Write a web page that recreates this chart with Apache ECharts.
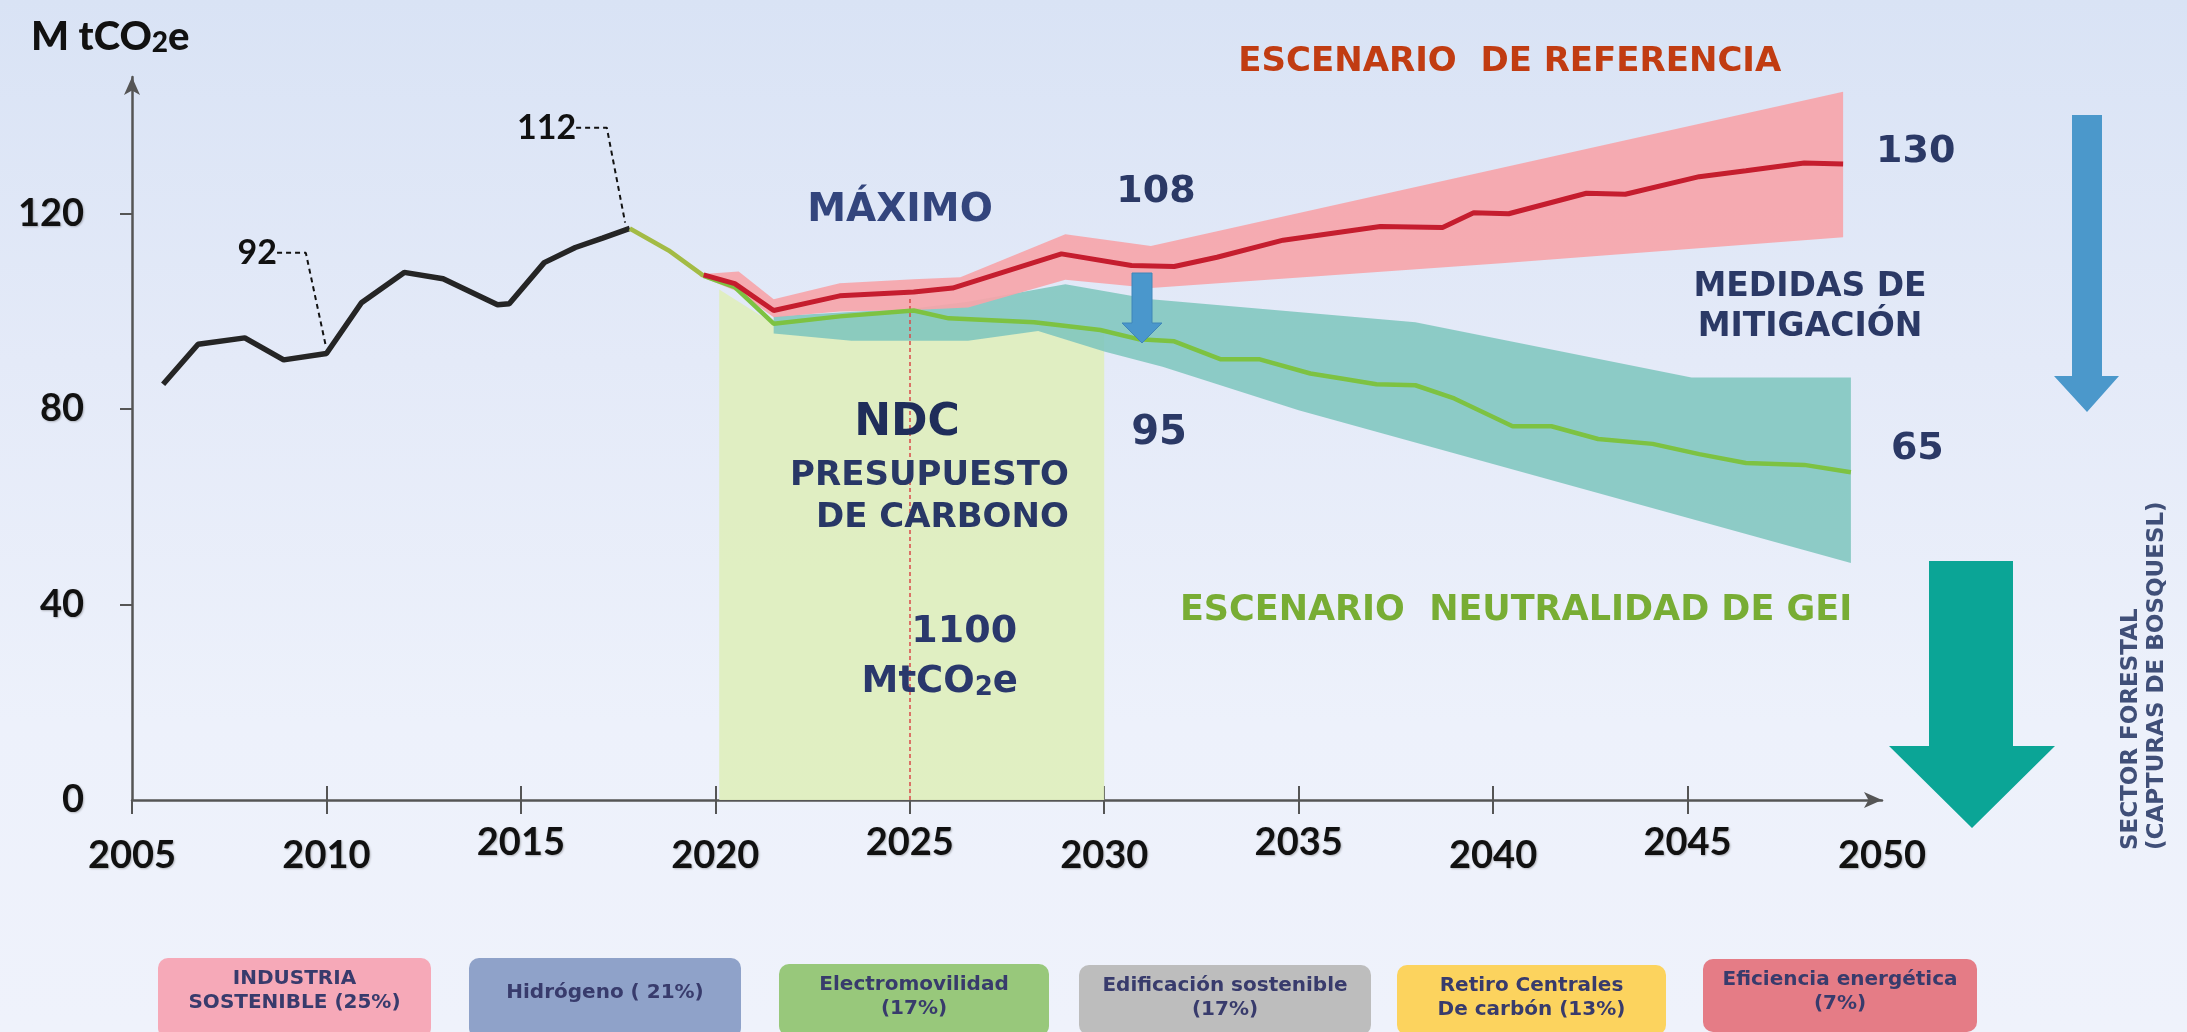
<!DOCTYPE html>
<html>
<head>
<meta charset="utf-8">
<script src="https://cdn.jsdelivr.net/npm/echarts/dist/echarts.min.js"></script>
<style>
  html, body { margin: 0; padding: 0; }
  body {
    width: 2187px; height: 1032px; overflow: hidden;
    background: linear-gradient(180deg, #d9e3f5 0%, #e4eaf8 35%, #edf1fb 70%, #eff2fb 100%);
  }
  #chart { width: 2187px; height: 1032px; }
</style>
</head>
<body>
<div id="chart"></div>
<script>
// ---------------- DATA ----------------
const xTicks = [2005, 2010, 2015, 2020, 2025, 2030, 2035, 2040, 2045, 2050];
const xTicksRaised = [2015, 2025, 2035, 2045];
const yTicks = [0, 40, 80, 120];

// Historical emissions (black line) [year, MtCO2e]
const historico = [[2005.8,85.1],[2006.7,93.3],[2007.9,94.6],[2008.9,90.1],[2010.0,91.4],[2010.9,101.8],
  [2012.0,108.0],[2013.0,106.7],[2014.4,101.4],[2014.7,101.6],[2015.6,110.0],[2016.4,113.1],[2017.1,115.0],[2017.8,117.0]];

// Reference scenario (red line)
const referencia = [[2019.7,107.5],[2020.5,105.7],[2021.5,100.2],[2023.2,103.2],[2025.1,104.0],[2026.1,104.8],
  [2028.9,111.8],[2030.7,109.4],[2031.8,109.2],[2032.9,111.1],[2034.6,114.6],[2037.1,117.4],[2038.7,117.2],
  [2039.5,120.2],[2040.4,120.0],[2042.4,124.2],[2043.4,124.0],[2045.3,127.6],[2046.5,128.8],[2048.0,130.4],[2049.0,130.2]];

// GHG neutrality scenario (green line); first 3 points are the 2018-2020 transition
const neutralidad = [[2017.8,117.0],[2018.8,112.5],[2019.7,107.3],[2020.5,105.0],[2021.5,97.5],[2023.2,99.0],
  [2025.1,100.2],[2026.0,98.6],[2028.2,97.8],[2029.9,96.2],[2030.9,94.3],[2031.8,93.9],[2033.0,90.2],[2034.0,90.2],
  [2035.3,87.3],[2036.1,86.3],[2037.0,85.1],[2038.0,84.9],[2039.0,82.2],[2040.5,76.5],[2041.5,76.5],[2042.7,73.9],
  [2044.1,72.9],[2045.3,70.8],[2046.5,69.0],[2048.0,68.6],[2049.2,67.1]];

// Reference scenario range (red band)
const bandaRefAlta = [[2019.6,107.6],[2020.6,108.2],[2021.5,102.5],[2023.2,105.8],[2025.1,106.6],[2026.3,107.0],
  [2029.0,115.8],[2031.2,113.4],[2049.0,145.0]];
const bandaRefBaja = [[2019.6,107.2],[2020.6,104.0],[2021.5,98.8],[2023.2,100.0],[2025.1,100.3],[2026.5,100.8],
  [2029.0,106.5],[2031.2,104.8],[2040.3,109.9],[2049.0,115.2]];

// Neutrality scenario range (teal band)
const bandaNeuAlta = [[2021.5,99.0],[2025.1,100.6],[2026.5,102.0],[2029.0,105.6],[2031.2,102.5],[2038.0,97.8],
  [2045.1,86.5],[2049.2,86.5]];
const bandaNeuBaja = [[2021.5,95.5],[2023.5,94.0],[2026.5,94.0],[2028.3,96.0],[2030.0,91.8],[2031.5,88.7],
  [2035.0,79.8],[2049.2,48.5]];

// NDC carbon budget 2020-2030 (green box)
const presupuestoNDC = [[2020.1,104.5],[2021.5,97.5],[2023.2,98.8],[2025.1,99.8],[2026.0,98.5],[2028.2,97.5],[2030.0,95.8]];
const marca2025 = [[2025, 0], [2025, 103]];

// Leader lines for callouts
const guia92 = [[2008.73,112.0],[2009.47,112.0],[2009.99,92.7]];
const guia112 = [[2016.42,137.6],[2017.21,137.6],[2017.68,118.2]];

// Mitigation measures boxes
const medidas = ['INDUSTRIA\nSOSTENIBLE (25%)', 'Hidrógeno ( 21%)', 'Electromovilidad\n(17%)',
  'Edificación sostenible\n(17%)', 'Retiro Centrales\nDe carbón (13%)', 'Eficiencia energética\n(7%)'];
const medidasColores = ['#f6a9b8', '#8fa2c9', '#98c87b', '#bdbdbd', '#fcd35e', '#e57c86'];

// ---------------- CHART ----------------
const chart = echarts.init(document.getElementById('chart'), null, { renderer: 'canvas' });

const tickFont = { fontFamily: 'Lato', fontWeight: 'bold', fontSize: 38, color: '#111',
  textShadowColor: 'rgba(0,0,0,0.25)', textShadowBlur: 2, textShadowOffsetX: 1, textShadowOffsetY: 1 };
const navy = '#2b3966';
const ann = { fontFamily: 'DejaVu Sans', fontWeight: 'bold' };

function band(name, upper, lower, color, z) {
  return {
    type: 'custom', name: name, z: z, silent: true, clip: false,
    data: [upper[0]],
    renderItem: function (params, api) {
      const pts = upper.map(p => api.coord(p)).concat(lower.slice().reverse().map(p => api.coord(p)));
      return { type: 'polygon', shape: { points: pts }, style: { fill: color } };
    }
  };
}

function note(value, text, style, align) {
  return { value: value, label: Object.assign({ show: true, position: 'inside', align: align || 'center',
    verticalAlign: 'middle', formatter: text }, ann, style) };
}

const annotations = [
  note([2024.75, 120.6], 'MÁXIMO', { fontSize: 39, color: '#33457d' }),
  note([2031.33, 124.5], '108', { fontSize: 38, color: navy }),
  note([2024.93, 77.0], 'NDC', { fontSize: 44, color: '#1f2d5a' }),
  note([2029.09, 66.3], 'PRESUPUESTO', { fontSize: 34, color: '#283766' }, 'right'),
  note([2029.09, 57.7], 'DE CARBONO', { fontSize: 34, color: '#283766' }, 'right'),
  note([2031.41, 74.9], '95', { fontSize: 40, color: navy }),
  note([2027.76, 34.4], '1100', { fontSize: 38, color: '#2a386c' }, 'right'),
  note([2027.78, 24.0], '{a|MtCO}{b|2}{a|e}', { rich: {
      a: Object.assign({ fontSize: 37, color: '#2a386c' }, ann),
      b: { fontFamily: 'DejaVu Sans', fontSize: 26, color: '#2a386c', verticalAlign: 'bottom', padding: [8, 0, 0, 0] } } }, 'right'),
  note([2040.43, 151.1], 'ESCENARIO  DE REFERENCIA', { fontSize: 34, color: '#c13c12' }),
  note([2048.15, 105.0], 'MEDIDAS DE', { fontSize: 33, color: navy }),
  note([2048.15, 96.8], 'MITIGACIÓN', { fontSize: 33, color: navy }),
  note([2040.59, 38.7], 'ESCENARIO  NEUTRALIDAD DE GEI', { fontSize: 35, color: '#78ad34' }),
  note([2008.73, 112.0], '92', { fontFamily: 'Lato', fontSize: 34, color: '#111' }, 'right'),
  note([2016.42, 137.6], '112', { fontFamily: 'Lato', fontSize: 34, color: '#111' }, 'right')
];

// Decorative arrows and text outside the plot (pixel layout)
const graphics = [
  { type: 'polygon', z: 50, shape: { points: [[1132,273],[1152,273],[1152,323],[1162,323],[1142,343],[1122,323],[1132,323]] },
    style: { fill: '#4a97cc', stroke: '#3f86b8', lineWidth: 1 } },
  { type: 'polygon', z: 50, shape: { points: [[2072,115],[2102,115],[2102,376],[2119,376],[2087,412],[2054,376],[2072,376]] },
    style: { fill: '#4b98cb' } },
  { type: 'polygon', z: 50, shape: { points: [[1929,561],[2013,561],[2013,746],[2055,746],[1972,828],[1889,746],[1929,746]] },
    style: { fill: '#0ba596' } },
  { type: 'text', z: 50, x: 2131, y: 850, rotation: Math.PI / 2,
    style: { text: 'SECTOR FORESTAL', font: 'bold 23px "DejaVu Sans"', fill: '#404f78', align: 'left', verticalAlign: 'middle' } },
  { type: 'text', z: 50, x: 2157, y: 850, rotation: Math.PI / 2,
    style: { text: '(CAPTURAS DE BOSQUESL)', font: 'bold 23px "DejaVu Sans"', fill: '#404f78', align: 'left', verticalAlign: 'middle' } }
];
const boxes = [[158,958,273,80],[469,958,272,80],[779,964,270,72],[1079,965,292,70],[1397,965,269,70],[1703,959,274,73]];
medidas.forEach((t, i) => {
  const b = boxes[i];
  graphics.push({ type: 'rect', z: 40, shape: { x: b[0], y: b[1], width: b[2], height: b[3], r: 10 },
    style: { fill: medidasColores[i] } });
  graphics.push({ type: 'text', z: 41, x: b[0] + b[2] / 2, y: b[1] + (t.indexOf('\n') > 0 ? 33 : 35),
    style: { text: t, font: 'bold 20px "DejaVu Sans"', fill: '#383b6c', align: 'center', verticalAlign: 'middle', lineHeight: 24 } });
});

const option = {
  backgroundColor: 'transparent',
  animation: false,
  title: {
    left: 26, top: 12,
    text: '{a|M tCO}{b|2}{a|e}',
    textStyle: { rich: {
      a: { fontFamily: 'Lato', fontWeight: 900, fontSize: 40, color: '#111' },
      b: { fontFamily: 'Lato', fontWeight: 900, fontSize: 28, color: '#111', verticalAlign: 'bottom', padding: [7, 0, 0, 0] } } }
  },
  grid: { left: 132, right: 305, top: 77, bottom: 232 },
  xAxis: [{
    type: 'value', min: 2005, max: 2050, interval: 5,
    axisLine: { show: true, symbol: ['none', 'arrow'], symbolSize: [12, 18], lineStyle: { color: '#555', width: 2.5 } },
    axisTick: { show: true, length: 14, lineStyle: { color: '#555', width: 2 }, customValues: xTicks.slice(0, -1) },
    splitLine: { show: false },
    axisLabel: {
      customValues: xTicks, margin: 23,
      formatter: v => (xTicksRaised.indexOf(v) >= 0 ? '{h|' + v + '}' : '{l|' + v + '}'),
      rich: { h: Object.assign({ lineHeight: 40 }, tickFont), l: Object.assign({ lineHeight: 40, padding: [26, 0, 0, 0] }, tickFont) }
    }
  }, {
    type: 'value', min: 2005, max: 2050, interval: 5, position: 'bottom', offset: 0,
    axisLine: { show: false }, axisLabel: { show: false }, splitLine: { show: false },
    axisTick: { show: true, inside: true, length: 14, lineStyle: { color: '#555', width: 2 }, customValues: xTicks.slice(1, -1) }
  }],
  yAxis: {
    type: 'value', min: 0, max: 148,
    axisLine: { show: true, symbol: ['none', 'arrow'], symbolSize: [12, 18], lineStyle: { color: '#555', width: 2.5 } },
    axisTick: { show: true, length: 12, lineStyle: { color: '#555', width: 2 }, customValues: yTicks.slice(1) },
    splitLine: { show: false },
    axisLabel: Object.assign({ customValues: yTicks, margin: 48 }, tickFont)
  },
  graphic: graphics,
  series: [
    {
      type: 'line', name: 'Presupuesto NDC', data: presupuestoNDC, z: 1, silent: true,
      symbol: 'none', lineStyle: { width: 0 },
      areaStyle: { color: '#dfeebf', opacity: 0.95, origin: 'start' },
      markLine: { silent: true, symbol: 'none', label: { show: false },
        lineStyle: { type: [4, 3], color: '#d94a4a', width: 1.5 },
        data: [[{ coord: marca2025[0] }, { coord: marca2025[1] }]] }
    },
    band('Rango neutralidad', bandaNeuAlta, bandaNeuBaja, 'rgba(128,198,190,0.88)', 2),
    band('Rango referencia', bandaRefAlta, bandaRefBaja, 'rgba(246,165,170,0.92)', 3),
    {
      type: 'line', name: 'Histórico', data: historico, z: 6, symbol: 'none',
      lineStyle: { color: '#252525', width: 5.5 }
    },
    {
      type: 'line', name: 'Transición', data: neutralidad.slice(0, 3), z: 6, symbol: 'none',
      lineStyle: { color: '#a3bb45', width: 4.5 }
    },
    {
      type: 'line', name: 'Escenario neutralidad', data: neutralidad.slice(2), z: 6, symbol: 'none',
      lineStyle: { color: '#7dc242', width: 4.5 },
      endLabel: Object.assign({ show: true, formatter: '65', distance: 40, offset: [0, -23], fontSize: 38, color: navy }, ann)
    },
    {
      type: 'line', name: 'Escenario de referencia', data: referencia, z: 7, symbol: 'none',
      lineStyle: { color: '#c51d2e', width: 5 },
      endLabel: Object.assign({ show: true, formatter: '130', distance: 33, offset: [0, -12], fontSize: 38, color: navy }, ann)
    },
    {
      type: 'line', name: 'Guía 92', data: guia92, z: 8, symbol: 'none', silent: true,
      lineStyle: { color: '#111', width: 2, type: [5, 4] }
    },
    {
      type: 'line', name: 'Guía 112', data: guia112, z: 8, symbol: 'none', silent: true,
      lineStyle: { color: '#111', width: 2, type: [5, 4] }
    },
    {
      type: 'scatter', name: 'Anotaciones', data: annotations, z: 20, silent: true, clip: false,
      symbolSize: 2, itemStyle: { color: 'rgba(0,0,0,0)', opacity: 1 }
    }
  ]
};
chart.setOption(option);
</script>
</body>
</html>
